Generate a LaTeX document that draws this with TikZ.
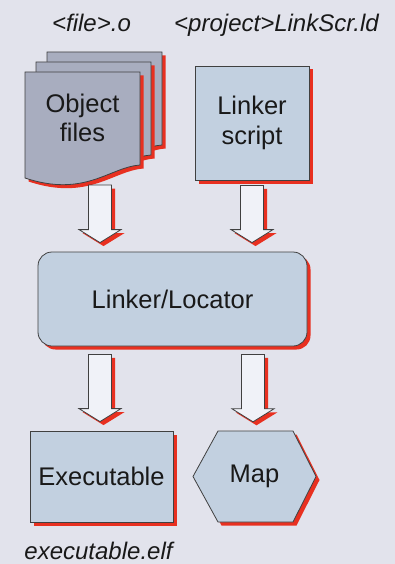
\documentclass[tikz,border=0pt]{standalone}
\usepackage{fontspec}
\setmainfont{Liberation Sans}
\usetikzlibrary{calc,shadows}
\definecolor{pagebg}{RGB}{226,227,236}
\definecolor{sheetgray}{RGB}{168,173,191}
\definecolor{boxblue}{RGB}{194,208,224}
\definecolor{arrowwhite}{RGB}{240,242,248}
\definecolor{shadowred}{RGB}{232,48,32}
\definecolor{edgegray}{RGB}{64,64,64}
\tikzset{
SHADOW/.style={drop shadow={shadow xshift=3.5pt,shadow yshift=-3.5pt,fill=shadowred,opacity=1}},
BOX/.style={SHADOW,draw=edgegray,fill=boxblue,line width=0.8pt},
SHEET/.style={SHADOW,draw=edgegray,fill=sheetgray,line width=0.8pt,line join=miter},
ARROWBOX/.style={SHADOW,draw=edgegray,fill=arrowwhite,line width=0.8pt,line join=miter},
BOXTEXT/.style={align=center,font=\fontsize{25.5}{29.5}\selectfont,text=black!90},
FILENAME/.style={anchor=base,font=\fontsize{24}{28}\selectfont\itshape,text=black!90},
}
% fat arrow pointing down, from #1 to just above #2 (only the y of #2 is used)
\newcommand{\blockarrow}[2]{%
  \path[ARROWBOX] let \p1=#1, \p2=#2 in
    (\x1-11.5pt,\y1) -- (\x1+11.5pt,\y1) -- (\x1+11.5pt,\y2+22pt)
    -- (\x1+21pt,\y2+22pt) -- (\x1,\y2+9pt) -- (\x1-21pt,\y2+22pt)
    -- (\x1-11.5pt,\y2+22pt) -- cycle;}

\begin{document}
\begin{tikzpicture}[x=1pt,y=-1pt]
	\useasboundingbox (0,0) rectangle (395,564);
	\fill[pagebg] (0,0) rectangle (395,564);
	%File names
	\node[FILENAME] (objname) at (91.5,32) {<file>.o};
	\node[FILENAME] (scrname) at (276.5,32) {<project>LinkScr.ld};
	%Stack of object files
	\foreach \d in {2,1,0}
		\path[SHEET,shift={(25+11*\d,72-10*\d)}] (0,0) -- (115,0) -- (115,93)
			.. controls (85,95) and (60,126) .. (0,106) -- cycle;
	\node[BOXTEXT,minimum width=115pt,minimum height=100pt] (objfiles) at (82.5,118) {Object\\files};
	\node[BOX,BOXTEXT,minimum width=114pt,minimum height=114pt] (script) at (252,123) {Linker\\script};
	%Linker
	\node[BOX,BOXTEXT,rounded corners=14pt,minimum width=269pt,minimum height=94pt] (linker) at (172.5,299) {Linker/Locator};
	%Outputs
	\node[BOX,BOXTEXT,minimum width=143pt,minimum height=91pt] (exe) at (101.5,476.5) {Executable};
	\path[BOX] (193,476.5) -- (218,431) -- (293,431) -- (316,476.5) -- (293,522) -- (218,522) -- cycle;
	\node[BOXTEXT,minimum width=123pt,minimum height=91pt] (map) at (254.5,476.5) {Map};
	\node[FILENAME] (exename) at (98.5,559) {executable.elf};
	%Arrows
	\coordinate (objout) at (100,185);
	\blockarrow{(objout)}{(linker.north)}
	\blockarrow{([yshift=-5pt]script.south)}{(linker.north)}
	\blockarrow{([xshift=-72.5pt,yshift=-8pt]linker.south)}{(exe.north)}
	\blockarrow{([xshift=80.5pt,yshift=-8pt]linker.south)}{(map.north)}
\end{tikzpicture}
\end{document}
